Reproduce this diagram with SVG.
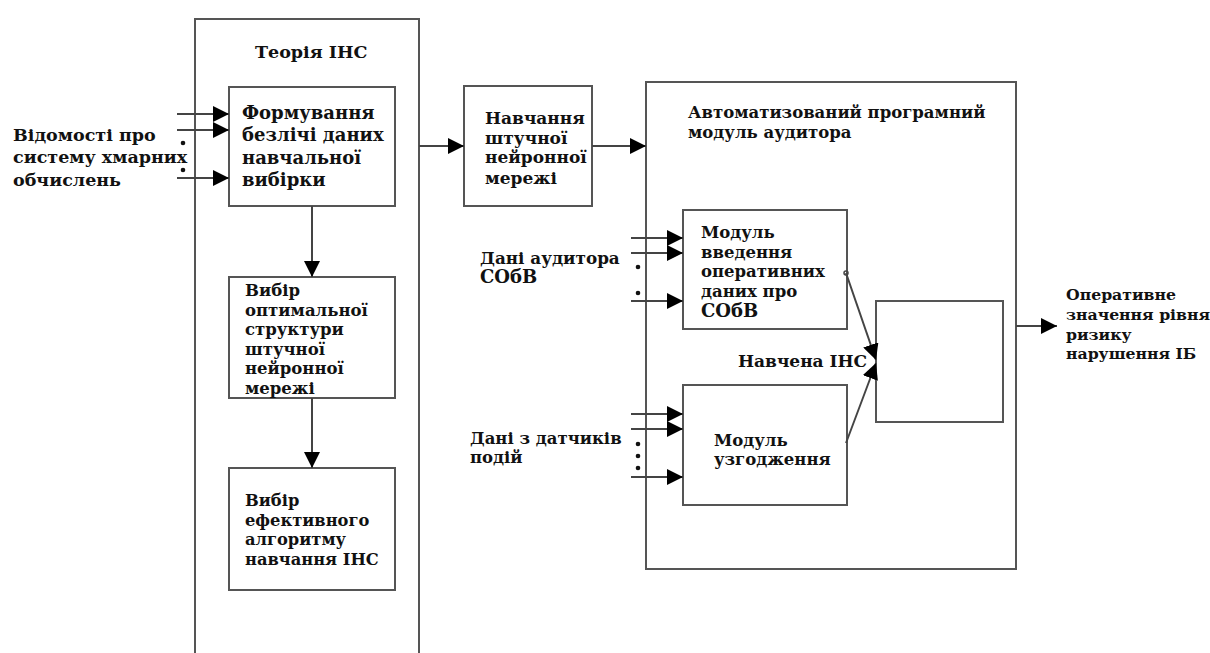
<svg xmlns="http://www.w3.org/2000/svg" width="1210" height="653" viewBox="0 0 1210 653">
<defs>
<marker id="ah" markerUnits="userSpaceOnUse" markerWidth="16" markerHeight="16" viewBox="0 0 16 16" refX="16" refY="8" orient="auto">
<path d="M0,0 L16,8 L0,16 Z" fill="#000"/>
</marker>
</defs>
<style>
.box{fill:none;stroke:#555;stroke-width:2}
.ln{fill:none;stroke:#444;stroke-width:2}
.t{font-family:"DejaVu Serif","Liberation Serif",serif;font-weight:bold;fill:#111}
.dot{fill:#111}
</style>
<rect width="1210" height="653" fill="#fff"/>

<g id="theory">
<path class="box" d="M195,653 L195,19 L419,19 L419,653"/>
<text class="t" font-size="17.5" x="255" y="58">Теорія ІНС</text>
</g>

<g id="input-left" font-size="17.5">
<text class="t" x="13" y="141">Відомості про</text>
<text class="t" x="13" y="163">систему хмарних</text>
<text class="t" x="13" y="186">обчислень</text>
</g>

<g id="forming" font-size="18">
<rect class="box" x="229" y="87" width="166" height="119"/>
<text class="t" x="242" y="119">Формування</text>
<text class="t" x="242" y="141">безлічі даних</text>
<text class="t" x="242" y="164">навчальної</text>
<text class="t" x="242" y="186">вибірки</text>
</g>

<g id="structure" font-size="16.5">
<rect class="box" x="229" y="277" width="166" height="121"/>
<text class="t" x="245" y="296">Вибір</text>
<text class="t" x="245" y="316">оптимальної</text>
<text class="t" x="245" y="335">структури</text>
<text class="t" x="245" y="355">штучної</text>
<text class="t" x="245" y="374">нейронної</text>
<text class="t" x="245" y="394">мережі</text>
</g>

<g id="algorithm" font-size="16.3">
<rect class="box" x="229" y="468" width="166" height="122"/>
<text class="t" x="245" y="506">Вибір</text>
<text class="t" x="245" y="526">ефективного</text>
<text class="t" x="245" y="545">алгоритму</text>
<text class="t" x="245" y="565">навчання ІНС</text>
</g>

<g id="training" font-size="17">
<rect class="box" x="464" y="86" width="128" height="120"/>
<text class="t" x="485" y="124">Навчання</text>
<text class="t" x="485" y="144">штучної</text>
<text class="t" x="485" y="163">нейронної</text>
<text class="t" x="485" y="184">мережі</text>
</g>

<g id="auditor-module" font-size="16.5">
<rect class="box" x="646" y="82" width="370" height="487"/>
<text class="t" x="688" y="118">Автоматизований програмний</text>
<text class="t" x="688" y="138">модуль аудитора</text>
</g>

<g id="input-module" font-size="16.5">
<rect class="box" x="683" y="210" width="164" height="119"/>
<text class="t" x="701" y="238">Модуль</text>
<text class="t" x="701" y="258">введення</text>
<text class="t" x="701" y="277">оперативних</text>
<text class="t" x="701" y="297">даних про</text>
<text class="t" font-size="18" x="701" y="317">СОбВ</text>
</g>

<g id="auditor-data" font-size="16.8">
<text class="t" x="480" y="264">Дані аудитора</text>
<text class="t" font-size="18" x="480" y="283">СОбВ</text>
</g>

<g id="match-module" font-size="16.5">
<rect class="box" x="683" y="385" width="164" height="120"/>
<text class="t" x="714" y="446">Модуль</text>
<text class="t" x="714" y="465">узгодження</text>
</g>

<g id="sensor-data" font-size="16.5">
<text class="t" x="470" y="444">Дані з датчиків</text>
<text class="t" x="470" y="463">подій</text>
</g>

<g id="trained-ins">
<rect class="box" x="876" y="301" width="127" height="121"/>
<text class="t" font-size="17" x="738" y="367">Навчена ІНС</text>
</g>

<g id="output" font-size="15.7">
<text class="t" x="1066" y="300">Оперативне</text>
<text class="t" x="1066" y="320">значення рівня</text>
<text class="t" x="1066" y="340">ризику</text>
<text class="t" x="1066" y="359">нарушення ІБ</text>
</g>

<g id="connectors">
<line class="ln" x1="177" y1="114" x2="229" y2="114" marker-end="url(#ah)"/>
<line class="ln" x1="177" y1="130" x2="229" y2="130" marker-end="url(#ah)"/>
<line class="ln" x1="177" y1="178" x2="229" y2="178" marker-end="url(#ah)"/>
<circle class="dot" cx="183" cy="143" r="2.3"/>
<circle class="dot" cx="183" cy="170" r="2.3"/>
<line class="ln" x1="312" y1="206" x2="312" y2="277" marker-end="url(#ah)"/>
<line class="ln" x1="312" y1="398" x2="312" y2="468" marker-end="url(#ah)"/>
<line class="ln" x1="419" y1="146" x2="464" y2="146" marker-end="url(#ah)"/>
<line class="ln" x1="592" y1="146" x2="646" y2="146" marker-end="url(#ah)"/>
<line class="ln" x1="631" y1="238" x2="683" y2="238" marker-end="url(#ah)"/>
<line class="ln" x1="631" y1="253" x2="683" y2="253" marker-end="url(#ah)"/>
<line class="ln" x1="631" y1="301" x2="683" y2="301" marker-end="url(#ah)"/>
<circle class="dot" cx="638" cy="267" r="2.3"/>
<circle class="dot" cx="638" cy="293" r="2.3"/>
<line class="ln" x1="631" y1="414" x2="683" y2="414" marker-end="url(#ah)"/>
<line class="ln" x1="631" y1="429" x2="683" y2="429" marker-end="url(#ah)"/>
<line class="ln" x1="631" y1="477" x2="683" y2="477" marker-end="url(#ah)"/>
<circle class="dot" cx="638" cy="444" r="2.3"/>
<circle class="dot" cx="638" cy="456" r="2.3"/>
<circle class="dot" cx="638" cy="468" r="2.3"/>
<circle cx="846" cy="273" r="2" fill="none" stroke="#444" stroke-width="1.5"/>
<line class="ln" x1="846" y1="273" x2="876" y2="360" marker-end="url(#ah)"/>
<line class="ln" x1="846" y1="443" x2="876" y2="363" marker-end="url(#ah)"/>
<line class="ln" x1="1016" y1="326" x2="1057" y2="326" marker-end="url(#ah)"/>
</g>
</svg>
